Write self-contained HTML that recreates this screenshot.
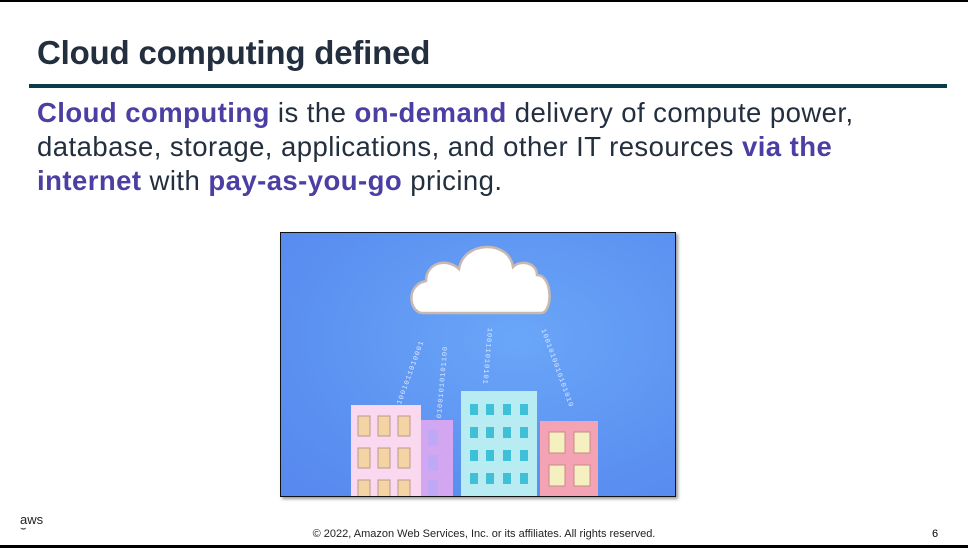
<!DOCTYPE html>
<html><head><meta charset="utf-8"><style>
body{margin:0;width:968px;height:548px;overflow:hidden;background:#fff;font-family:"Liberation Sans",sans-serif;position:relative}
.top{position:absolute;left:0;top:0;width:968px;height:2px;background:#000}
.bot{position:absolute;left:0;top:545px;width:968px;height:3px;background:#000}
h1{position:absolute;left:37px;top:34px;margin:0;font-size:33px;font-weight:bold;color:#232f3e;letter-spacing:-0.2px}
.rule{position:absolute;left:29px;top:84px;width:918px;height:4px;background:#0b3c49}
.body{position:absolute;left:37px;top:96px;width:920px;font-size:27.5px;line-height:34px;color:#232f3e;white-space:nowrap;letter-spacing:0.45px}
.body b{color:#4b3fa3}
.img{position:absolute;left:280px;top:232px;width:394px;height:263px;border:1px solid #111;background:radial-gradient(ellipse at 60% 40%,#6aa6f8,#5a8ff0 70%,#5888ee);overflow:hidden;box-shadow:2px 2px 3px #999}
.b{position:absolute}
.foot{position:absolute;top:528px;left:0;width:968px;text-align:center;font-size:11px;color:#222}
.num{position:absolute;left:932px;top:528px;font-size:11px}
.aws{position:absolute;left:20px;top:512px;font-size:13px;color:#222}
.bin{position:absolute;color:#dfe9ff;font-size:7px;font-family:"Liberation Mono",monospace;transform-origin:0 0;letter-spacing:1px}
</style></head><body>
<div class="top"></div>
<h1>Cloud computing defined</h1>
<div class="rule"></div>
<div class="body"><b>Cloud computing</b> is the <b>on-demand</b> delivery of compute power,<br>database, storage, applications, and other IT resources <b>via the</b><br><b>internet</b> with <b>pay-as-you-go</b> pricing.</div>
<div class="img">
<svg width="394" height="263" style="position:absolute;left:0;top:0">
<path d="M142,80 C128,80 124,52 145,48 C145,30 165,24 178,36 C182,8 228,6 232,34 C240,26 256,30 256,42 C272,42 272,80 260,80 Z" fill="#fff" stroke="#c9b8b0" stroke-width="2.5"/>
</svg>
<div class="bin" style="left:115px;top:170px;transform:rotate(-70deg)">1001011010001</div>
<div class="bin" style="left:155px;top:185px;transform:rotate(-85deg)">01001010101100</div>
<div class="bin" style="left:212px;top:95px;transform:rotate(95deg)">10011010101</div>
<div class="bin" style="left:265px;top:95px;transform:rotate(70deg)">1001010010101010</div>
<div class="b" style="left:70px;top:172px;width:70px;height:95px;background:#f9d8f0"></div>
<div class="b" style="left:140px;top:187px;width:32px;height:80px;background:#d3a6f2"></div>
<div class="b" style="left:180px;top:158px;width:76px;height:110px;background:#b7ecf3"></div>
<div class="b" style="left:259px;top:188px;width:58px;height:80px;background:#f3a3b3"></div>
<svg width="394" height="263" style="position:absolute;left:0;top:0">
<g fill="#f4d3a5" stroke="#b89a8a" stroke-width="1">
<rect x="77" y="183" width="12" height="20"/><rect x="97" y="183" width="12" height="20"/><rect x="117" y="183" width="12" height="20"/>
<rect x="77" y="215" width="12" height="20"/><rect x="97" y="215" width="12" height="20"/><rect x="117" y="215" width="12" height="20"/>
<rect x="77" y="247" width="12" height="20"/><rect x="97" y="247" width="12" height="20"/><rect x="117" y="247" width="12" height="20"/>
</g>
<g fill="#bfa8f5"><rect x="147" y="197" width="10" height="16"/><rect x="147" y="222" width="10" height="16"/><rect x="147" y="247" width="10" height="16"/></g>
<g fill="#3fc0d8">
<rect x="189" y="171" width="8" height="11"/><rect x="205" y="171" width="8" height="11"/><rect x="222" y="171" width="8" height="11"/><rect x="239" y="171" width="8" height="11"/>
<rect x="189" y="194" width="8" height="11"/><rect x="205" y="194" width="8" height="11"/><rect x="222" y="194" width="8" height="11"/><rect x="239" y="194" width="8" height="11"/>
<rect x="189" y="217" width="8" height="11"/><rect x="205" y="217" width="8" height="11"/><rect x="222" y="217" width="8" height="11"/><rect x="239" y="217" width="8" height="11"/>
<rect x="189" y="240" width="8" height="11"/><rect x="205" y="240" width="8" height="11"/><rect x="222" y="240" width="8" height="11"/><rect x="239" y="240" width="8" height="11"/>
</g>
<g fill="#f5f0c0" stroke="#c98a8a"><rect x="268" y="199" width="16" height="21"/><rect x="293" y="199" width="16" height="21"/><rect x="268" y="232" width="16" height="21"/><rect x="293" y="232" width="16" height="21"/></g>
</svg>
</div>
<div class="aws">aws<br><span style="font-size:10px;position:relative;top:-8px">&#x2323;</span></div>
<div class="foot">© 2022, Amazon Web Services, Inc. or its affiliates. All rights reserved.</div>
<div class="num">6</div>
<div class="bot"></div>
</body></html>
